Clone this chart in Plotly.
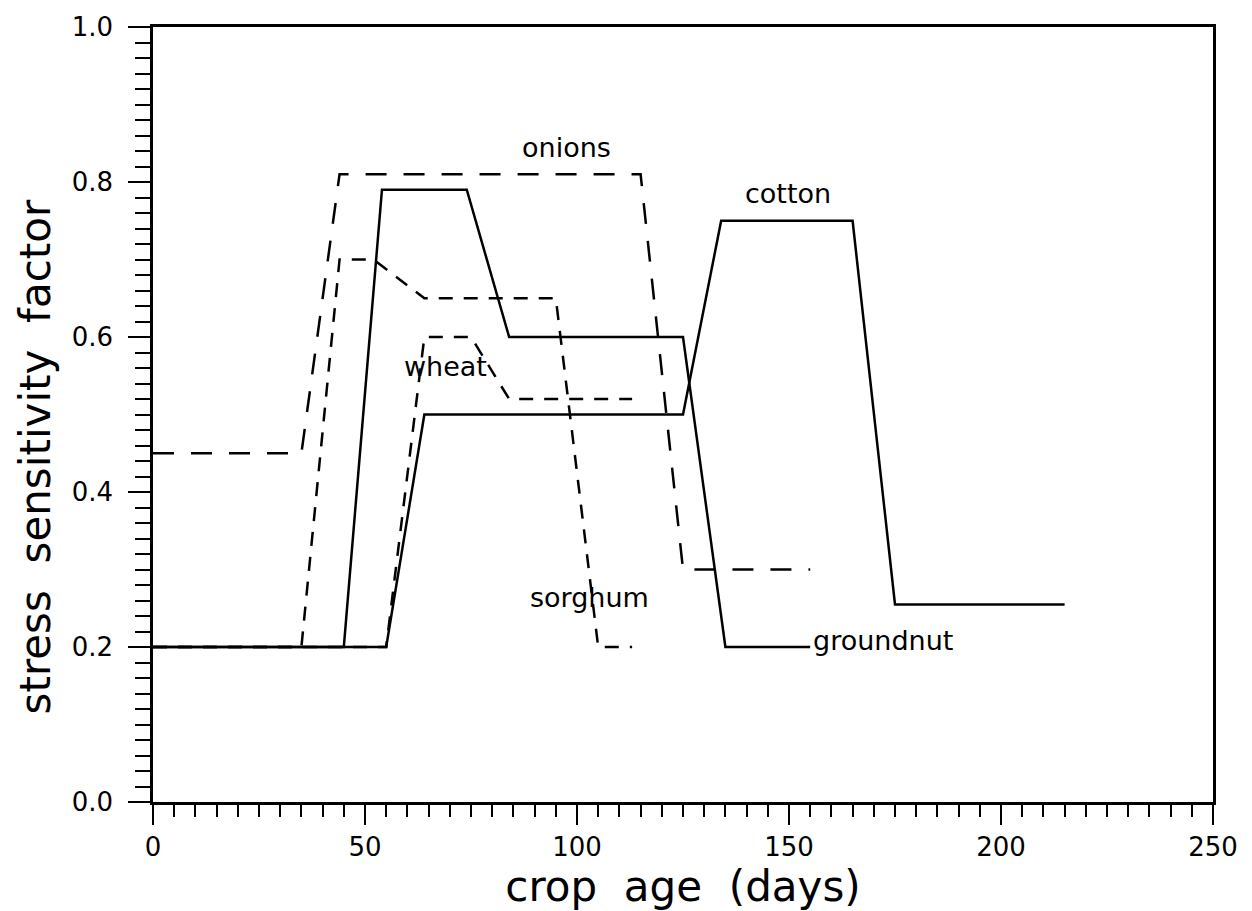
import plotly.graph_objects as go

# Stress sensitivity factor by crop age (days) for each crop
onions_days = [0, 35, 44, 115, 125, 155]
onions_ssf = [0.45, 0.45, 0.81, 0.81, 0.30, 0.30]

sorghum_days = [0, 35, 44, 52, 64, 95, 105, 113]
sorghum_ssf = [0.20, 0.20, 0.70, 0.70, 0.65, 0.65, 0.20, 0.20]

wheat_days = [0, 55, 64, 75, 84, 113]
wheat_ssf = [0.20, 0.20, 0.60, 0.60, 0.52, 0.52]

groundnut_days = [0, 45, 54, 74, 84, 125, 135, 155]
groundnut_ssf = [0.20, 0.20, 0.79, 0.79, 0.60, 0.60, 0.20, 0.20]

cotton_days = [0, 55, 64, 125, 134, 165, 175, 215]
cotton_ssf = [0.20, 0.20, 0.50, 0.50, 0.75, 0.75, 0.255, 0.255]

# Curve labels: text, x, y, anchor
label_text = ["onions", "cotton", "wheat", "sorghum", "groundnut"]
label_x = [97.5, 149.8, 69.0, 103.0, 155.3]
label_y = [0.845, 0.785, 0.562, 0.264, 0.208]
label_anchor = ["center", "center", "center", "center", "left"]

FONT = "DejaVu Sans"
LONG_DASH = "21px,17px"
SHORT_DASH = "14px,11px"

fig = go.Figure()

series = [
    ("cotton", cotton_days, cotton_ssf, "solid"),
    ("groundnut", groundnut_days, groundnut_ssf, "solid"),
    ("wheat", wheat_days, wheat_ssf, SHORT_DASH),
    ("sorghum", sorghum_days, sorghum_ssf, SHORT_DASH),
    ("onions", onions_days, onions_ssf, LONG_DASH),
]
for name, xs, ys, dash in series:
    fig.add_trace(go.Scatter(
        x=xs, y=ys, name=name, mode="lines",
        line=dict(color="black", width=2.5, dash=dash),
        showlegend=False,
    ))

for t, x, y, a in zip(label_text, label_x, label_y, label_anchor):
    fig.add_annotation(
        x=x, y=y, text=t, showarrow=False, xanchor=a, yanchor="middle",
        font=dict(family=FONT, size=27, color="black"),
    )

# Vertical axis title, placed as rotated text left of the tick labels
fig.add_annotation(
    xref="paper", yref="paper", x=-0.111, y=0.445,
    text="stress\u00a0 sensitivity\u00a0 factor", textangle=-90,
    showarrow=False, xanchor="center", yanchor="middle",
    font=dict(family=FONT, size=42, color="black"),
)

fig.update_layout(
    width=1252, height=911,
    margin=dict(l=153, r=39, t=22, b=109),
    paper_bgcolor="white", plot_bgcolor="white",
    font=dict(family=FONT, color="black"),
)

fig.update_xaxes(
    range=[0, 250], tick0=0, dtick=50,
    ticks="outside", ticklen=20, tickwidth=2, tickcolor="black",
    minor=dict(dtick=5, ticks="outside", ticklen=12, tickwidth=2,
               tickcolor="black", showgrid=False),
    showline=True, linewidth=2.5, linecolor="black", mirror=True,
    showgrid=False, zeroline=False,
    tickfont=dict(family=FONT, size=26, color="black"),
    title=dict(text="crop\u00a0 age\u00a0 (days)", standoff=8,
               font=dict(family=FONT, size=42, color="black")),
)

fig.update_yaxes(
    range=[0, 1], tick0=0, dtick=0.2, tickformat=".1f",
    ticks="outside", ticklen=22, tickwidth=2, tickcolor="black",
    minor=dict(dtick=0.02, ticks="outside", ticklen=15, tickwidth=2,
               tickcolor="black", showgrid=False),
    showline=True, linewidth=2.5, linecolor="black", mirror=True,
    showgrid=False, zeroline=False,
    ticklabelstandoff=10,
    tickfont=dict(family=FONT, size=26, color="black"),
)

fig.write_html("out.html")
